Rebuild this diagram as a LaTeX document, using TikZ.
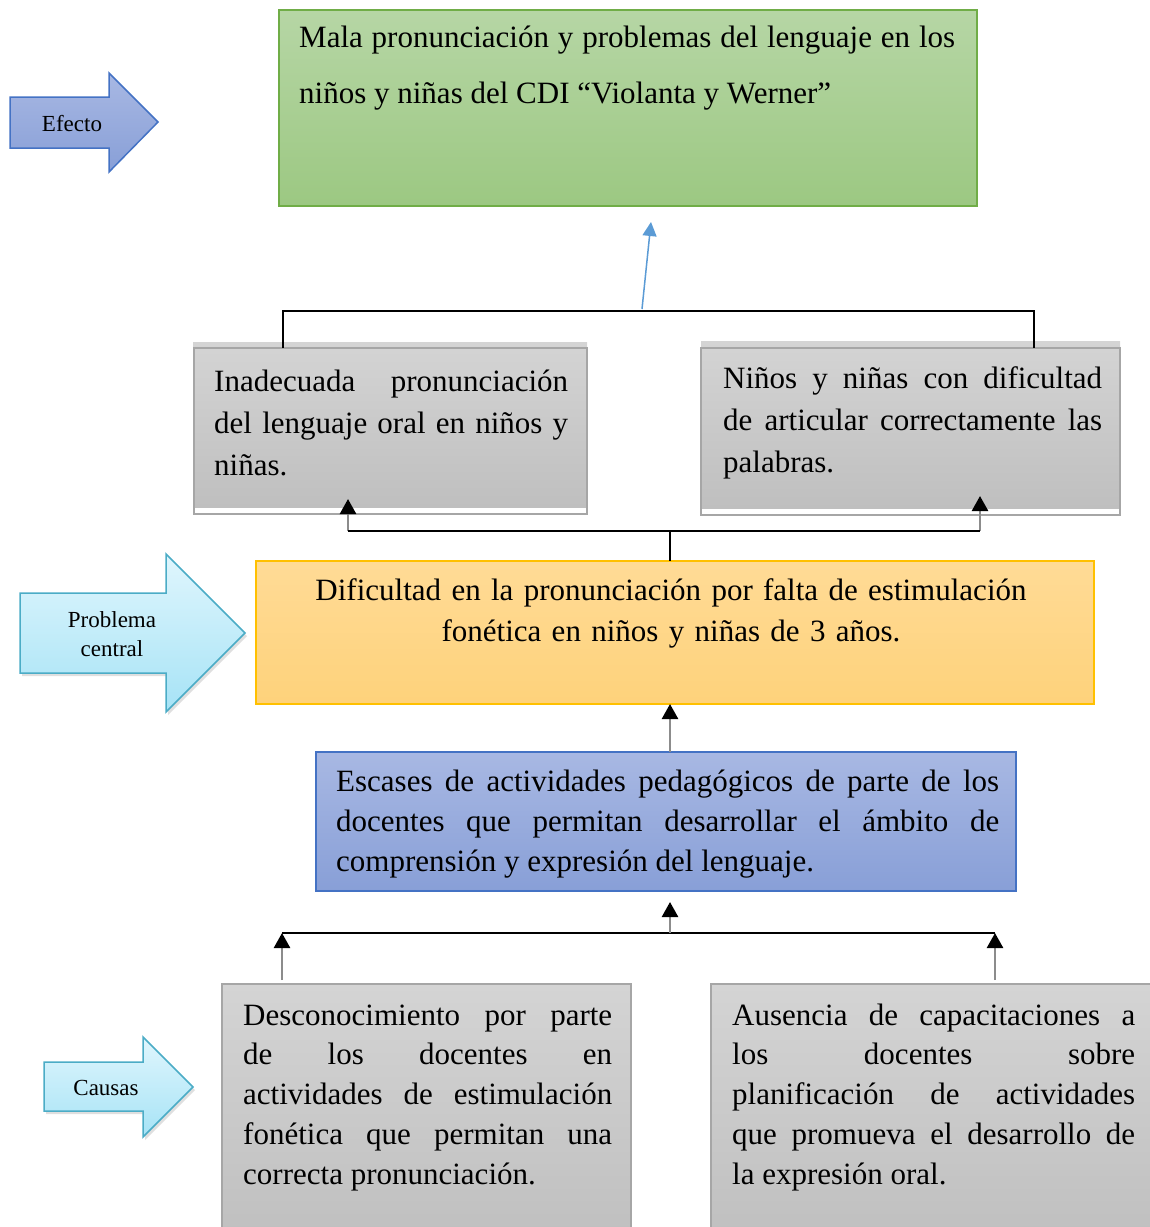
\documentclass[tikz,border=0pt]{standalone}
\usepackage{fontspec}
\setmainfont{Liberation Serif}
\usepackage[rgb]{xcolor}
\usetikzlibrary{arrows.meta,shadows}

\definecolor{greentop}{HTML}{B6D6A5}
\definecolor{greenbot}{HTML}{9CC882}
\definecolor{greenline}{HTML}{70AD47}
\definecolor{bluetop}{HTML}{A8B8E3}
\definecolor{bluebot}{HTML}{889FD7}
\definecolor{blueline}{HTML}{4472C4}
\definecolor{yellowtop}{HTML}{FFDB96}
\definecolor{yellowbot}{HTML}{FED27B}
\definecolor{yellowline}{HTML}{FFC000}
\definecolor{cyantop}{HTML}{E0F6FD}
\definecolor{cyanbot}{HTML}{A6E3F6}
\definecolor{cyanline}{HTML}{4BACC6}
\definecolor{graytop}{HTML}{D4D4D4}
\definecolor{graybot}{HTML}{BFBFBF}
\definecolor{grayline}{HTML}{A6A6A6}
\definecolor{stemgray}{HTML}{8C8C8C}
\definecolor{thinblue}{HTML}{5B9BD5}

\tolerance=10000
\hbadness=10000
\hyphenpenalty=10000

\tikzset{
    panel/.style={anchor=north west, inner sep=0pt, outer sep=0pt},
    greenpanel/.style={panel, top color=greentop, bottom color=greenbot, draw=greenline, line width=1.5pt},
    bluepanel/.style={panel, top color=bluetop, bottom color=bluebot, draw=blueline, line width=1.5pt},
    yellowpanel/.style={panel, top color=yellowtop, bottom color=yellowbot, draw=yellowline, line width=1.5pt},
    graypanel/.style={panel, top color=graytop, bottom color=graybot},
    grayedge/.style={panel, draw=grayline, line width=2pt},
    graybox/.style={panel, top color=graytop, bottom color=graybot, draw=grayline, line width=1.5pt},
    bodytext/.style={inner sep=0pt, anchor=base west, align=justify, font=\fontsize{31pt}{42pt}\selectfont},
    tagtext/.style={inner sep=0pt, anchor=base, align=center, font=\fontsize{23pt}{29pt}\selectfont},
    efarrow/.style={top color=bluetop, bottom color=bluebot, draw=blueline, line width=1.5pt},
    cyanarrow/.style={top color=cyantop, bottom color=cyanbot, draw=cyanline, line width=1.5pt,
        drop shadow={opacity=0.25, shadow xshift=2pt, shadow yshift=-3pt}},
    conn/.style={draw=black, line width=2.5pt},
    upstem/.style={draw=stemgray, line width=2.5pt, -{Triangle[length=15pt, width=16pt, color=black]}},
}

\begin{document}
\begin{tikzpicture}[x=1pt, y=-1pt]
    \useasboundingbox (0,0) rectangle (1150,1227);

    \path[efarrow] (10,97) -- (109,97) -- (109,73) -- (158,122) -- (109,172) -- (109,148) -- (10,148) -- cycle;
    \node[tagtext] (lblefecto) at (72,131) {Efecto};

    \path[cyanarrow] (20,593) -- (166,593) -- (166,554) -- (245,633) -- (166,712) -- (166,673) -- (20,673) -- cycle;
    \node[tagtext] (lblproblema) at (112,656) {Problema\\central};

    \path[cyanarrow] (44,1062) -- (143,1062) -- (143,1037) -- (193,1087) -- (143,1137) -- (143,1111) -- (44,1111) -- cycle;
    \node[tagtext] (lblcausas) at (106,1095) {Causas};

    \node[greenpanel, minimum width=698pt, minimum height=196pt] (efecto) at (279,10) {};
    \node[bodytext, text width=656pt, font=\fontsize{31pt}{56pt}\selectfont] (efectotxt) at (299,47)
        {Mala pronunciación y problemas del lenguaje en los\linebreak niños y niñas del CDI “Violanta y Werner”};

    \node[graypanel, minimum width=394pt, minimum height=165pt] (inadec) at (193,342) {};
    \node[grayedge, minimum width=393pt, minimum height=166pt] (inadecedge) at (194,348) {};
    \node[bodytext, text width=354pt] (inadectxt) at (214,391)
        {Inadecuada pronunciación\linebreak del lenguaje oral en niños y\linebreak niñas.};

    \node[graypanel, minimum width=419pt, minimum height=167pt] (articular) at (701,341) {};
    \node[grayedge, minimum width=419pt, minimum height=167pt] (articularedge) at (701,348) {};
    \node[bodytext, text width=379pt] (articulartxt) at (723,388)
        {Niños y niñas con dificultad\linebreak de articular correctamente las\linebreak palabras.};

    \node[yellowpanel, minimum width=838pt, minimum height=143pt] (dificultad) at (256,561) {};
    \node[bodytext, anchor=base, align=center, text width=820pt, font=\fontsize{31pt}{41pt}\selectfont] (dificultadtxt) at (671,600)
        {Dificultad en la pronunciación por falta de estimulación\\fonética en niños y niñas de 3 años.};

    \node[bluepanel, minimum width=700pt, minimum height=139pt] (escases) at (316,752) {};
    \node[bodytext, text width=663pt, font=\fontsize{31pt}{40pt}\selectfont] (escasestxt) at (336,791)
        {Escases de actividades pedagógicos de parte de los\linebreak docentes que permitan desarrollar el ámbito de\linebreak comprensión y expresión del lenguaje.};

    \node[graybox, minimum width=409pt, minimum height=260pt] (desconoc) at (222,984) {};
    \node[bodytext, text width=369pt, font=\fontsize{31pt}{39.8pt}\selectfont] (desconoctxt) at (243,1025)
        {Desconocimiento por parte\linebreak de los docentes en\linebreak actividades de estimulación\linebreak fonética que permitan una\linebreak correcta pronunciación.};

    \node[graybox, minimum width=440pt, minimum height=260pt] (ausencia) at (711,984) {};
    \node[bodytext, text width=403pt, font=\fontsize{31pt}{39.8pt}\selectfont] (ausenciatxt) at (732,1025)
        {Ausencia de capacitaciones a\linebreak los docentes sobre\linebreak planificación de actividades\linebreak que promueva el desarrollo de\linebreak la expresión oral.};

    \coordinate (axis) at (670,0);

    \coordinate (topl) at (283,311);
    \coordinate (topr) at (1034,311);
    \coordinate (topm) at (642,309);
    \coordinate (topaim) at (651,222);
    \draw[conn] (topl |- inadecedge.north) -- (topl) -- (topr) -- (topr |- articularedge.north);
    \draw[thinblue, line width=1.5pt, -{Triangle[length=14pt, width=14pt]}] (topm) -- (topaim);

    \coordinate (midl) at (348,531);
    \coordinate (midr) at (980,531);
    \coordinate (midtipl) at (348,499);
    \coordinate (midtipr) at (980,496);
    \draw[upstem] (midl) -- (midtipl);
    \draw[upstem] (midr) -- (midtipr);
    \draw[conn] (midl) -- (midr);
    \draw[black, line width=1.5pt] (axis |- midl) -- (axis |- dificultad.north);

    \draw[upstem] (axis |- escases.north) -- (axis |- dificultad.south);

    \coordinate (lowl) at (282,933);
    \coordinate (lowr) at (995,933);
    \coordinate (lowtip) at (670,902);
    \draw[conn] (lowl) -- (lowr);
    \draw[upstem] (axis |- lowl) -- (lowtip);
    \draw[upstem] (lowl |- 0,980) -- (lowl);
    \draw[upstem] (lowr |- 0,980) -- (lowr);
\end{tikzpicture}
\end{document}
